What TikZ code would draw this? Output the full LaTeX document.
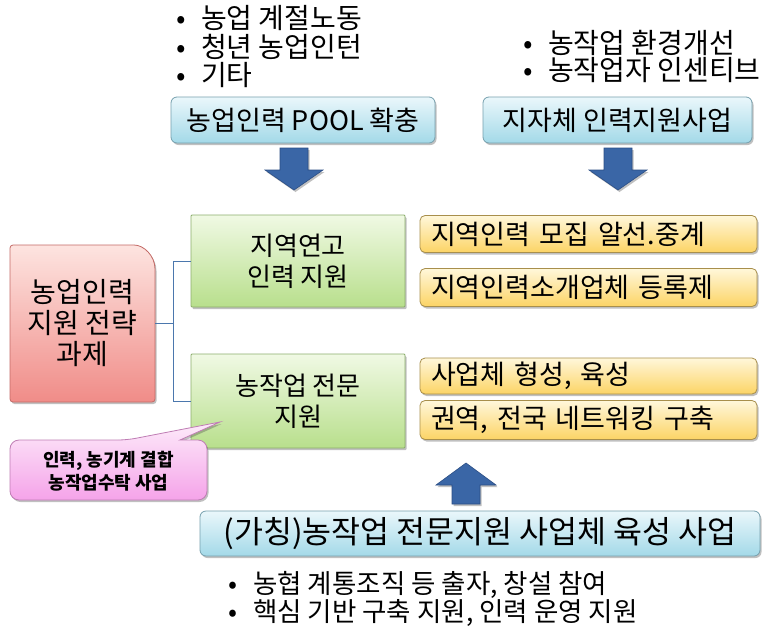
\documentclass[tikz,border=0pt]{standalone}
\usepackage{fontspec}
\setmainfont{Noto Sans CJK KR}
\usetikzlibrary{shadows,calc}
\definecolor{blueT}{HTML}{EAF7FB}
\definecolor{blueB}{HTML}{A3D9E8}
\definecolor{blueD}{HTML}{76A0AE}
\definecolor{greenT}{HTML}{F0F9E4}
\definecolor{greenB}{HTML}{B8DF8C}
\definecolor{greenD}{HTML}{8CAE6C}
\definecolor{yelT}{HTML}{FFF7DA}
\definecolor{yelB}{HTML}{FCD465}
\definecolor{yelD}{HTML}{A88F4C}
\definecolor{redT}{HTML}{FDE4E0}
\definecolor{redB}{HTML}{F08C88}
\definecolor{redD}{HTML}{C46A66}
\definecolor{pinkT}{HTML}{FDEBFA}
\definecolor{pinkB}{HTML}{F5A3E9}
\definecolor{pinkD}{HTML}{BF7DB4}
\definecolor{arrF}{HTML}{3A66A6}
\definecolor{arrD}{HTML}{2B4E85}
\definecolor{connC}{HTML}{4B77AD}
\begin{document}
\begin{tikzpicture}[x=1pt,y=-1pt,
  shad/.style={drop shadow={shadow xshift=1.5pt,shadow yshift=-2pt,opacity=0.35,fill=black!70}},
  box/.style={draw, line width=0.8pt, rounded corners=6pt, inner sep=0pt, align=center, shad,
    font=\fontsize{27}{30}\selectfont},
  bluebox/.style={box, draw=blueD, top color=blueT, bottom color=blueB},
  greenbox/.style={box, draw=greenD, top color=greenT, bottom color=greenB, rounded corners=1pt,
    font=\fontsize{26}{31}\selectfont},
  yelbox/.style={box, draw=yelD, top color=yelT, bottom color=yelB, rounded corners=5pt,
    align=left, inner xsep=11pt, font=\fontsize{27}{30}\selectfont},
  redshape/.style={draw=redD, line width=0.8pt, top color=redT, bottom color=redB, shad},
  pinkshape/.style={draw=pinkD, line width=0.8pt, top color=pinkT, bottom color=pinkB, shad},
  barrow/.style={draw=arrD, line width=0.6pt, fill=arrF, shad},
  conn/.style={draw=connC, line width=0.8pt},
  bul/.style={anchor=base west, inner sep=0pt, font=\fontsize{28}{28}\selectfont},
  bulb/.style={bul, font=\fontsize{26.5}{28}\selectfont},
]
\useasboundingbox (0,0) rectangle (764,630);
\fill[white] (0,0) rectangle (764,630);
\newcommand{\bl}{\makebox[25pt][l]{\raisebox{0pt}{•}}}

% top bullets
\node[bul] (tl1) at (176,28) {\bl 농업 계절노동};
\node[bul] (tl2) at (176,57) {\bl 청년 농업인턴};
\node[bul] (tl3) at (176,85) {\bl 기타};
\node[bul] (tr1) at (523,53) {\bl 농작업 환경개선};
\node[bul] (tr2) at (523,80) {\bl 농작업자 인센티브};

% top boxes
\node[bluebox, minimum width=264pt, minimum height=46pt] (pool) at (303,120) {농업인력 POOL 확충};
\node[bluebox, minimum width=269pt, minimum height=46pt] (jij) at (617.5,120) {지자체 인력지원사업};

% down arrows
\draw[barrow] (280,148) -- (308,148) -- (308,170) -- (323,170) -- (294,190) -- (265,170) -- (280,170) -- cycle;
\draw[barrow] (604,148) -- (632,148) -- (632,170) -- (647,170) -- (618,190) -- (589,170) -- (604,170) -- cycle;

% red box
\node[inner sep=0pt, minimum width=145pt, minimum height=157pt] (red) at (82.5,323.5) {};
\path[redshape] (10,320) [rounded corners=3pt] -- (10,245) -- (131,245) [sharp corners]
  .. controls (144,245) and (155,256) .. (155,269) [rounded corners=3pt] -- (155,402) -- (10,402) -- cycle;
\node[align=center, font=\fontsize{28}{31}\selectfont] (redt) at (red) {농업인력\\지원 전략\\과제};

% green boxes
\node[greenbox, minimum width=214pt, minimum height=92pt] (g1) at (298,261) {지역연고\\인력 지원};
\node[greenbox, minimum width=214pt, minimum height=94pt] (g2) at (298,401) {농작업 전문\\지원};

% connectors
\coordinate (jn) at ($(red.east)!0.5!(red.east -| g1.west)$);
\draw[conn] (red.east) -- (jn);
\draw[conn] (g1.west) -| (jn |- g1.west) -- (jn |- g2.west) -- (g2.west);

% yellow boxes
\node[yelbox, minimum width=337pt, text width=315pt, minimum height=37pt] (y1) at (588.5,234) {지역인력 모집 알선.중계};
\node[yelbox, minimum width=337pt, text width=315pt, minimum height=38pt] (y2) at (588.5,287.5) {지역인력소개업체 등록제};
\node[yelbox, minimum width=337pt, text width=315pt, minimum height=36pt] (y3) at (588.5,376) {사업체 형성, 육성};
\node[yelbox, minimum width=337pt, text width=315pt, minimum height=39pt] (y4) at (588.5,420) {권역, 전국 네트워킹 구축};

% callout
\path[pinkshape] (10,470) [rounded corners=9pt] -- (10,440) -- (127,440) [sharp corners] -- (220,422)
  -- (180,440) [rounded corners=9pt] -- (207,440) -- (207,500) -- (10,500) -- cycle;
\node[align=center, font=\fontsize{18}{23}\selectfont\bfseries] (call) at (108.5,471) {인력, 농기계 결합\\농작업수탁 사업};

% up arrow
\draw[barrow] (452,504) -- (480,504) -- (480,485) -- (496,485) -- (466,463) -- (436,485) -- (452,485) -- cycle;

% bottom box
\node[bluebox, minimum width=560pt, minimum height=45pt, font=\fontsize{31.5}{32}\selectfont] (bot) at (480,533.5) {(가칭)농작업 전문지원 사업체 육성 사업};

% bottom bullets
\node[bulb] (b1) at (228,593) {\bl 농협 계통조직 등 출자, 창설 참여};
\node[bulb] (b2) at (228,621) {\bl 핵심 기반 구축 지원, 인력 운영 지원};
\end{tikzpicture}
\end{document}
